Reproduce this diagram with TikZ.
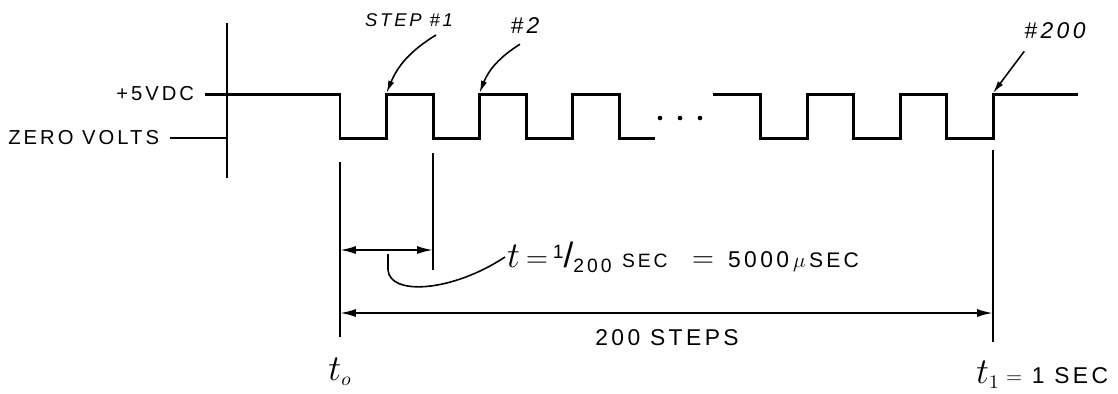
\documentclass[tikz,border=0pt]{standalone}
\usepackage{fontspec}
\setsansfont{Liberation Sans}[LetterSpace=15]
\usetikzlibrary{arrows.meta,positioning}

\begin{document}
\begin{tikzpicture}[x=0.02cm, y=-0.02cm, font=\sffamily,
    wave/.style={line width=1.7pt, line join=miter},
    marker/.style={line width=0.8pt},
    lvl/.style={anchor=east, inner xsep=6pt, font=\sffamily\fontsize{11.5}{13}\selectfont},
    tag/.style={font=\sffamily\fontsize{13}{15}\selectfont\itshape},
    dimarrow/.style={line width=1.1pt, {Latex[length=9pt,width=4.5pt]}-{Latex[length=9pt,width=4.5pt]}},
    callout/.style={line width=0.9pt, -{Latex[length=7pt,width=3.5pt]}}]
  \useasboundingbox (0,0) rectangle (1118,393);

  \coordinate (axtop) at (227,23);
  \coordinate (axbot) at (227,178);
  \coordinate (axhi) at (227,94);
  \coordinate (axlo) at (227,138);
  \coordinate (step1) at (386.5,93);
  \coordinate (step2) at (479.5,93);
  \coordinate (step200) at (993,93);
  \coordinate (mark0) at (340,162);
  \coordinate (mark1) at (433,153);
  \coordinate (markN) at (993,150);

  % levels and axis
  \draw[line width=1pt] (axtop) -- (axbot);
  \node[lvl] (vdc) at (205,94) {+5VDC};
  \node[lvl] (zero) at (170,138) {ZERO VOLTS};
  \draw[line width=1.2pt] (zero.east) -- (axlo);

  % pulse train
  \draw[wave] (vdc.east) -- (340,94)
    \foreach \x in {340,433,526} { -- (\x,94) -- (\x,138) -- (\x+46.5,138) -- (\x+46.5,94) }
    -- (619,94) -- (619,138) -- (655,138);
  \foreach \x in {660,680,700} \fill (\x,118) circle (2.3);
  \draw[wave] (713,94) -- (760.5,94)
    \foreach \x in {760.5,853.5,946.5} { -- (\x,94) -- (\x,138) -- (\x+46.5,138) -- (\x+46.5,94) }
    -- (1078,94);

  % step tags
  \node[tag, font=\sffamily\fontsize{10.5}{12}\selectfont\itshape] (tag1) at (409,20) {STEP \#1};
  \node[tag] (tag2) at (525,26) {\#2};
  \node[tag] (tag200) at (1055,31) {\#200};
  \draw[callout] (436,35) coordinate (c1) to[bend right=18] (step1);
  \draw[callout] (tag2.south) ++(-5,4) coordinate (c2) to[bend right=18] (step2);
  \draw[callout] (tag200.south west) ++(6,6) coordinate (c200) -- (step200);

  % time marks
  \draw[marker] (mark0) -- (340,337) coordinate (t0bot);
  \draw[marker] (mark1) -- (433,270);
  \draw[marker] (markN) -- (993,342) coordinate (t1bot);

  \coordinate (d1a) at (340,250);
  \coordinate (d1b) at (433,250);
  \draw[dimarrow] (d1a) -- (d1b);
  \coordinate (d2a) at (340,313);
  \coordinate (d2b) at (993,313);
  \draw[dimarrow] (d2a) -- (d2b);

  \node[anchor=west, inner sep=1pt] (period) at (505,257)
    {\fontsize{21}{22}\selectfont$t$\,\fontsize{17}{17}\selectfont$=$\,%
     \raisebox{5pt}{\fontsize{11}{12}\selectfont 1}{\fontsize{20}{20}\selectfont/}%
     \raisebox{-3pt}{\fontsize{11}{12}\selectfont 200}\hspace{6pt}%
     \fontsize{11}{12}\selectfont SEC\hspace{14pt}\fontsize{17}{17}\selectfont$=$\hspace{8pt}%
     \fontsize{13}{15}\selectfont 5000\,$\mu$\,\fontsize{12}{13}\selectfont SEC};
  \coordinate (lead) at (388,254);
  \draw[line width=0.9pt] (lead) -- (388,270) .. controls (390,296) and (452,292) .. (period.west);

  \node (steps) at (667,338) {\fontsize{13}{15}\selectfont 200 STEPS};
  \node (tzero) at (340,372) {\fontsize{22}{24}\selectfont$t_{\scriptscriptstyle o}$};
  \node[anchor=west] (tone) at (970,375) {\fontsize{22}{24}\selectfont$t_{\scriptscriptstyle 1}$\,\fontsize{13}{15}\selectfont$=$ 1 SEC};
\end{tikzpicture}
\end{document}
